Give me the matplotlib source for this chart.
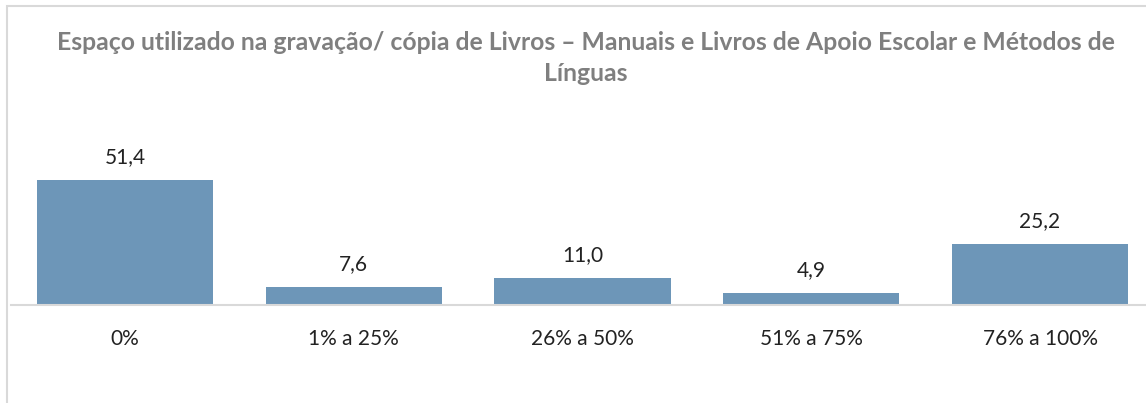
#!/usr/bin/env python3
# -*- coding: utf-8 -*-

import matplotlib
matplotlib.use('Agg')
import matplotlib.pyplot as plt
from matplotlib.patches import Rectangle

# data
categories = ['0%', '1% a 25%', '26% a 50%', '51% a 75%', '76% a 100%']
values = [51.4, 7.6, 11.0, 4.9, 25.2]
title = ('Espaço utilizado na gravação/ cópia de Livros – Manuais e Livros '
         'de Apoio Escolar e Métodos de\nLínguas')

bar_color = '#6d96b8'
text_color = '#222222'
title_color = '#7f7f7f'
line_color = '#d9d9d9'

plt.rcParams['font.family'] = ['Lato', 'DejaVu Sans']

W, H = 1146, 403
fig = plt.figure(figsize=(W / 100, H / 100), dpi=100)

# chart area frame (only left and top edges show in the picture)
frame = Rectangle((7 / W, -0.2), 1.2, 1 - 6 / H + 0.2, transform=fig.transFigure,
                  fill=False, edgecolor=line_color, linewidth=1.5)
fig.patches.append(frame)

ax = fig.add_axes([10.6 / W, 98 / H, 1143.8 / W, 185 / H])
x = range(len(categories))
bars = ax.bar(x, values, width=0.77, color=bar_color)
ax.set_xlim(-0.5, len(categories) - 0.5)
ax.set_ylim(0, 185 / 2.43)

for bar, v in zip(bars, values):
    ax.annotate(f'{v:.1f}'.replace('.', ','),
                (bar.get_x() + bar.get_width() / 2, bar.get_height()),
                xytext=(0, 16.5), textcoords='offset points',
                ha='center', va='center', fontsize=15, color=text_color)

ax.set_xticks(list(x))
ax.set_xticklabels(categories, fontsize=15, color=text_color)
ax.tick_params(axis='x', length=0, pad=17)
ax.set_yticks([])
for side in ['left', 'right', 'top']:
    ax.spines[side].set_visible(False)
ax.spines['bottom'].set_color(line_color)
ax.spines['bottom'].set_linewidth(1.5)
ax.set_facecolor('none')

fig.text(586 / W, 1 - 58 / H, title, ha='center', va='center',
         fontsize=17.8, fontweight='bold', color=title_color, linespacing=1.4)

fig.savefig('out.png', dpi=100)
